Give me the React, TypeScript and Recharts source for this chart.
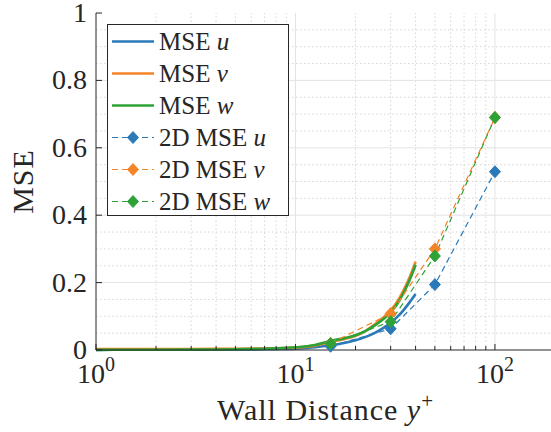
import React from "react";
import {Legend, Line, LineChart, ReferenceLine, XAxis, YAxis} from "recharts";

// y+ positions of the continuous MSE curves
const yPlusDense = [1, 1.5, 2, 3, 4, 5, 6, 7, 8, 10, 12.5, 15, 17.5, 20, 22.5, 25, 27.5, 30, 32.5, 35, 37.5, 40];
const mseU = [0.0005, 0.0006, 0.0007, 0.0009, 0.0011, 0.0014, 0.0017, 0.0021, 0.0026, 0.004, 0.008, 0.014, 0.021, 0.029, 0.039, 0.051, 0.065, 0.081, 0.099, 0.12, 0.143, 0.166];
const mseV = [0.003, 0.003, 0.003, 0.003, 0.0032, 0.0035, 0.004, 0.0045, 0.005, 0.007, 0.013, 0.024, 0.032, 0.042, 0.057, 0.076, 0.096, 0.118, 0.145, 0.18, 0.218, 0.262];
const mseW = [0.0005, 0.0006, 0.0008, 0.0012, 0.0017, 0.0023, 0.003, 0.0038, 0.0047, 0.008, 0.015, 0.027, 0.035, 0.044, 0.057, 0.073, 0.091, 0.112, 0.138, 0.172, 0.21, 0.252];

// 2D model, sampled planes
const yPlus2D = [15, 30, 50, 100];
const mse2dU = [0.011, 0.063, 0.194, 0.529];
const mse2dV = [0.02, 0.108, 0.3, 0.69];
const mse2dW = [0.019, 0.084, 0.279, 0.69];

const xMajor = [1, 10, 100];
const xMinor = [2, 3, 4, 5, 6, 7, 8, 9, 20, 30, 40, 50, 60, 70, 80, 90, 200];
const yMajor = [0, 0.2, 0.4, 0.6, 0.8, 1];
const yMinor = [0.05, 0.1, 0.15, 0.25, 0.3, 0.35, 0.45, 0.5, 0.55, 0.65, 0.7, 0.75, 0.85, 0.9, 0.95];

const BLUE = "#2a7ab9";
const ORANGE = "#f58327";
const GREEN = "#2ea236";
const AXIS = "#262626";
const FONT = "'Liberation Serif', 'DejaVu Serif', serif";

const toPoints = (xs: number[], ys: number[]) => xs.map((x, i) => ({x, y: ys[i]}));

const solidSeries = [
	{key: "u", color: BLUE, data: toPoints(yPlusDense, mseU)},
	{key: "v", color: ORANGE, data: toPoints(yPlusDense, mseV)},
	{key: "w", color: GREEN, data: toPoints(yPlusDense, mseW)},
];
const dashedSeries = [
	{key: "u", color: BLUE, data: toPoints(yPlus2D, mse2dU)},
	{key: "v", color: ORANGE, data: toPoints(yPlus2D, mse2dV)},
	{key: "w", color: GREEN, data: toPoints(yPlus2D, mse2dW)},
];

const diamond = (cx: number, cy: number, fill: string, key?: string) => (
	<path key={key} d={`M${cx},${cy - 6}L${cx + 5.5},${cy}L${cx},${cy + 6}L${cx - 5.5},${cy}Z`} fill={fill} stroke={fill}/>
);

function BottomTick({x, y, payload}: any) {
	const v = payload.value;
	const major = xMajor.includes(v);
	return (
		<g>
			<line x1={x} x2={x} y1={y} y2={y - (major ? 6 : 4)} stroke={AXIS}/>
			{major && (
				<text x={x} y={y + 33} textAnchor="middle" fontFamily={FONT} fontSize={28} fill={AXIS}>
					10<tspan dy={-12} fontSize={20}>{Math.round(Math.log10(v))}</tspan>
				</text>
			)}
		</g>
	);
}

function TopTick({x, y, payload}: any) {
	const major = xMajor.includes(payload.value);
	return <line x1={x} x2={x} y1={y} y2={y + (major ? 6 : 4)} stroke={AXIS}/>;
}

function LeftTick({x, y, payload}: any) {
	return (
		<g>
			<line x1={x} x2={x + 6} y1={y} y2={y} stroke={AXIS}/>
			<text x={x - 9} y={y + 9} textAnchor="end" fontFamily={FONT} fontSize={28} fill={AXIS}>
				{payload.value}
			</text>
		</g>
	);
}

function RightTick({x, y}: any) {
	return <line x1={x} x2={x - 6} y1={y} y2={y} stroke={AXIS}/>;
}

function LegendBox() {
	const rows = [
		...solidSeries.map((s) => ({...s, prefix: "MSE ", dashed: false})),
		...dashedSeries.map((s) => ({...s, prefix: "2D MSE ", dashed: true})),
	];
	return (
		<svg width={182} height={192} style={{display: "block"}}>
			<rect x={0.5} y={0.5} width={181} height={191} fill="#fff" stroke={AXIS}/>
			{rows.map((r, i) => {
				const cy = 17.5 + i * 32;
				return (
					<g key={i}>
						<line x1={5} x2={47} y1={cy} y2={cy} stroke={r.color}
						      strokeWidth={r.dashed ? 1.2 : 2.6} strokeDasharray={r.dashed ? "6 4" : undefined}/>
						{r.dashed && diamond(26, cy, r.color)}
						<text x={52} y={cy + 8.5} fontFamily={FONT} fontSize={25} fill={AXIS}>
							{r.prefix}<tspan fontStyle="italic">{r.key}</tspan>
						</text>
					</g>
				);
			})}
		</svg>
	);
}

export default function App() {
	return (
		<div style={{position: "fixed", left: 0, top: 0, width: 551, height: 432, overflow: "hidden", background: "#fff"}}>
			<LineChart width={560} height={432} margin={{top: 13, right: 0, left: 0, bottom: 0}}>
				<XAxis dataKey="x" type="number" scale="log" domain={[1, 200]} allowDataOverflow
				       ticks={[...xMajor, ...xMinor].sort((a, b) => a - b)} interval={0}
				       tick={<BottomTick/>} tickLine={false} tickSize={0} tickMargin={0} height={82}
				       axisLine={{stroke: AXIS}}
				       label={{
					       content: ({viewBox}: any) => (
						       <text x={viewBox.x + viewBox.width / 2} y={viewBox.y + 70} textAnchor="middle"
						             fontFamily={FONT} fontSize={30} letterSpacing={1} fill={AXIS}>
							       Wall Distance <tspan fontStyle="italic">y</tspan>
							       <tspan dy={-12} fontSize={21}>+</tspan>
						       </text>
					       ),
				       }}/>
				<XAxis xAxisId="top" orientation="top" type="number" scale="log" domain={[1, 200]} allowDataOverflow
				       ticks={[...xMajor, ...xMinor].sort((a, b) => a - b)} interval={0}
				       tick={<TopTick/>} tickLine={false} tickSize={0} tickMargin={0} height={0}
				       axisLine={{stroke: AXIS}}/>
				<YAxis type="number" domain={[0, 1]} ticks={yMajor} interval={0} width={96}
				       tick={<LeftTick/>} tickLine={false} tickSize={0} tickMargin={0}
				       axisLine={{stroke: AXIS}}
				       label={{
					       content: ({viewBox}: any) => {
						       const cx = viewBox.x + 33;
						       const cy = viewBox.y + viewBox.height / 2;
						       return (
							       <text x={cx} y={cy} textAnchor="middle" transform={`rotate(-90 ${cx} ${cy})`}
							             fontFamily={FONT} fontSize={30} letterSpacing={1} fill={AXIS}>MSE</text>
						       );
					       },
				       }}/>
				<YAxis yAxisId="right" orientation="right" type="number" domain={[0, 1]} ticks={yMajor} interval={0}
				       width={5} tick={<RightTick/>} tickLine={false} tickSize={0} tickMargin={0}
				       axisLine={{stroke: AXIS}}/>

				{xMinor.map((v) => (
					<ReferenceLine key={`xm${v}`} x={v} stroke="#d6d6d6" strokeDasharray="1.5 2.5"/>
				))}
				{yMinor.map((v) => (
					<ReferenceLine key={`ym${v}`} y={v} stroke="#d6d6d6" strokeDasharray="1.5 2.5"/>
				))}
				{xMajor.slice(1).map((v) => (
					<ReferenceLine key={`xM${v}`} x={v} stroke="#e3e3e3"/>
				))}
				{yMajor.slice(1, -1).map((v) => (
					<ReferenceLine key={`yM${v}`} y={v} stroke="#e3e3e3"/>
				))}

				{solidSeries.map((s) => (
					<Line key={`s${s.key}`} data={s.data} dataKey="y" type="monotone" stroke={s.color}
					      strokeWidth={2.6} dot={false} isAnimationActive={false}/>
				))}
				{dashedSeries.map((s) => (
					<Line key={`d${s.key}`} data={s.data} dataKey="y" type="linear" stroke={s.color}
					      strokeWidth={1.2} strokeDasharray="6 4" isAnimationActive={false}
					      dot={(p: any) => diamond(p.cx, p.cy, s.color, `d${s.key}${p.index}`)}/>
				))}

				<Legend layout="vertical" align="center" verticalAlign="middle" content={<LegendBox/>}
				        wrapperStyle={{left: 107, top: 24, width: 182, height: 192}}/>
			</LineChart>
		</div>
	);
}
